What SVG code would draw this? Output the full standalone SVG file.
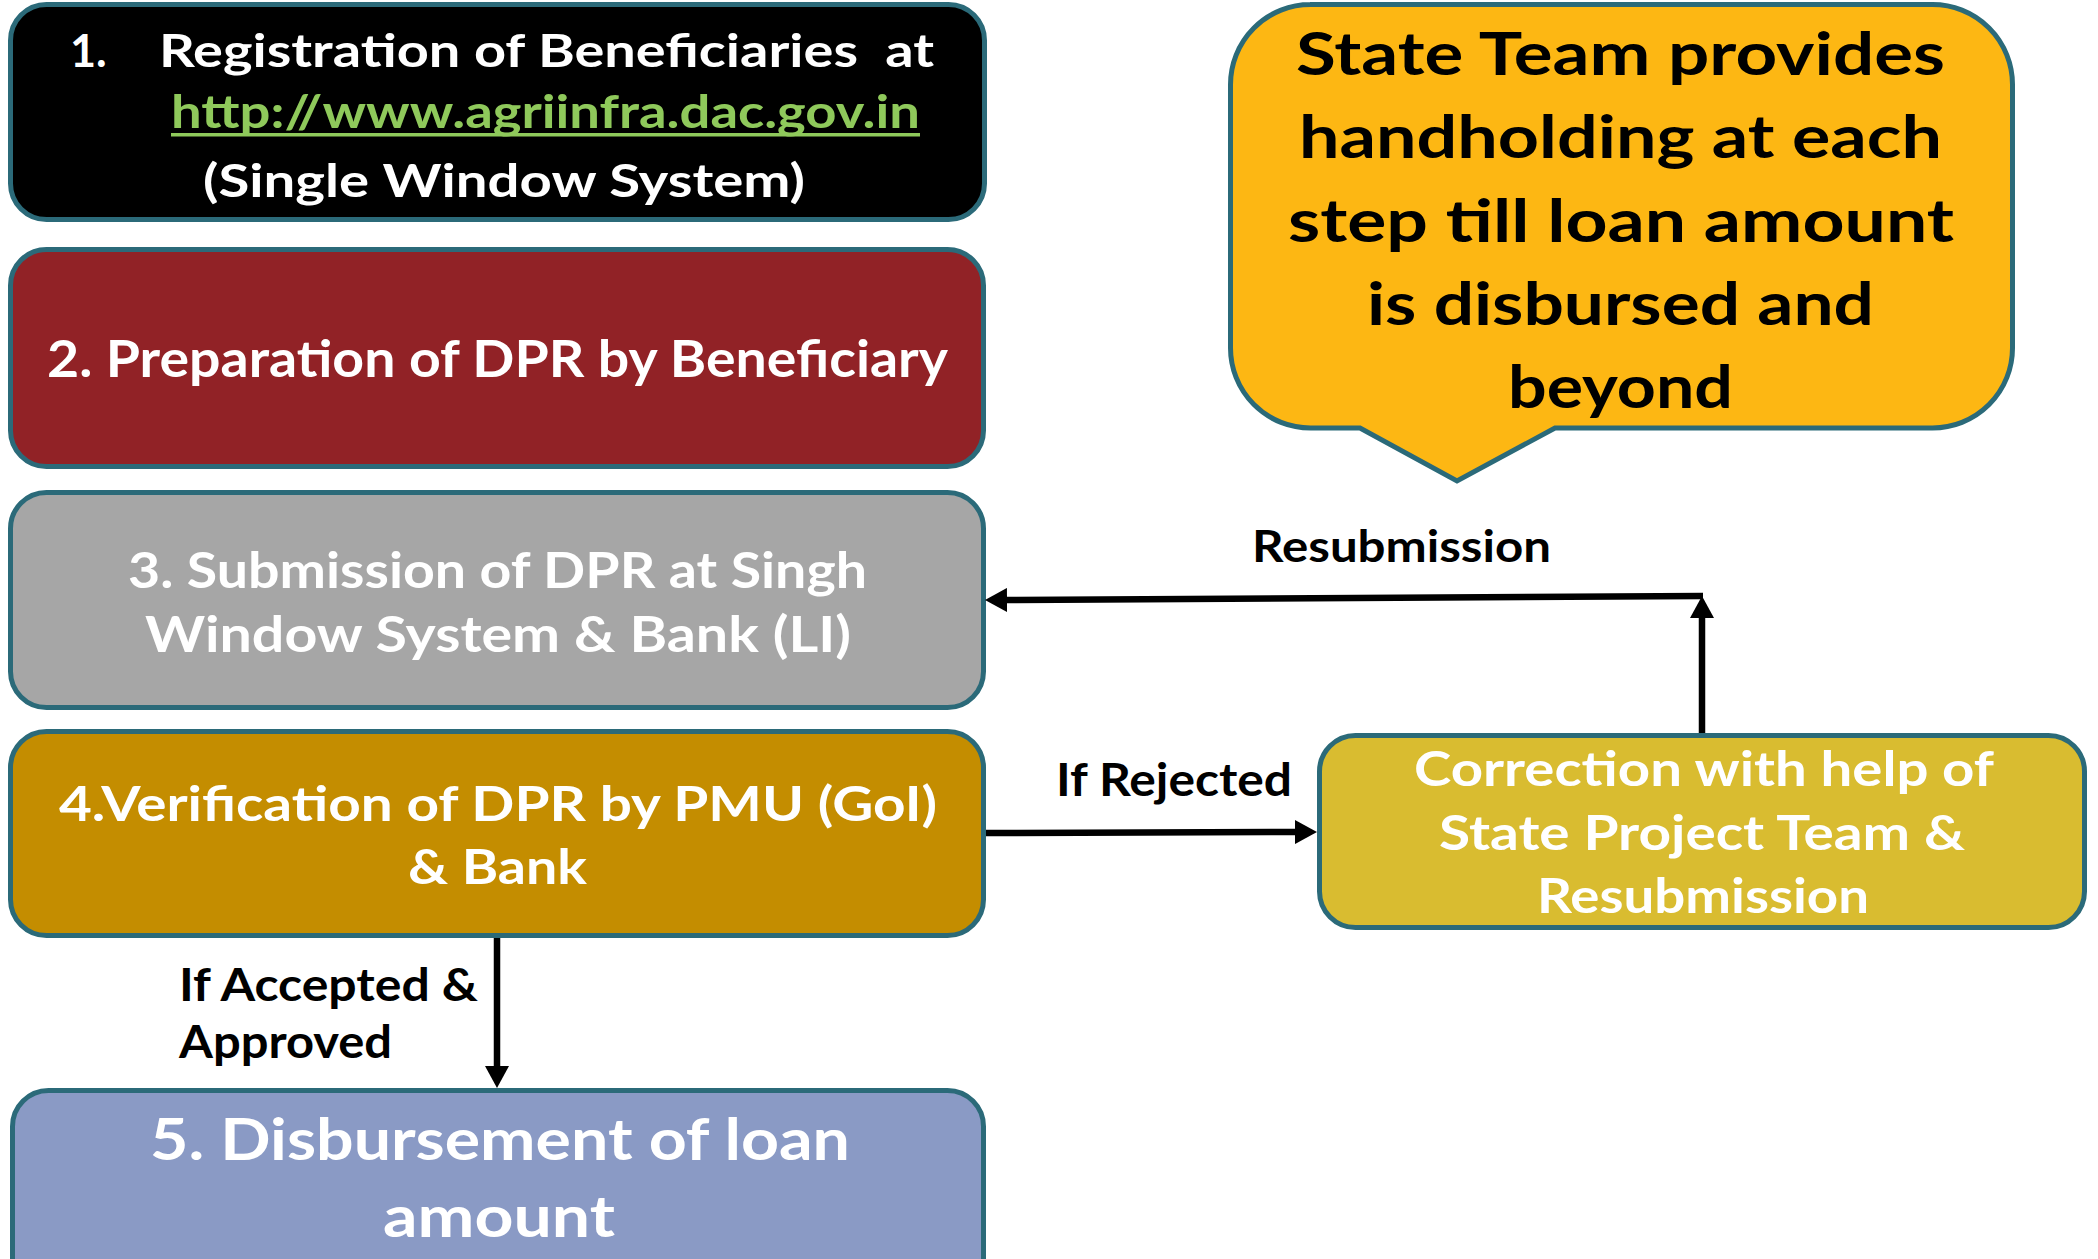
<svg xmlns="http://www.w3.org/2000/svg" width="2098" height="1259" viewBox="0 0 2098 1259">
<defs>
<style>
.box{stroke:#2B6A79;stroke-width:5}
.t{font-family:Lato,"Open Sans","Liberation Sans",sans-serif;font-weight:bold}
.w{fill:#FFFFFF}
.k{fill:#000000}
.con{fill:none;stroke:#000;stroke-width:6.5}
</style>
<marker id="ah" viewBox="0 0 22 24" refX="10" refY="12" markerWidth="22" markerHeight="24" markerUnits="userSpaceOnUse" orient="auto">
<path d="M0,0 L22,12 L0,24 Z" fill="#000"/>
</marker>
</defs>
<rect width="2098" height="1259" fill="#FFFFFF"/>

<g id="node1">
<rect class="box" x="10.5" y="4.5" width="974" height="215" rx="36" fill="#000000"/>
<text class="t w" x="70" y="67" font-size="45">1.</text>
<text class="t w" x="159" y="67" font-size="45" xml:space="preserve" style="white-space:pre" textLength="775" lengthAdjust="spacingAndGlyphs">Registration of Beneficiaries  at</text>
<text class="t" x="171" y="128" font-size="45" fill="#8FC95B" textLength="749" lengthAdjust="spacingAndGlyphs">http://www.agriinfra.dac.gov.in</text>
<rect x="171" y="133" width="749" height="3.5" fill="#8FC95B"/>
<text class="t w" x="203" y="197" font-size="45" textLength="602" lengthAdjust="spacingAndGlyphs">(Single Window System)</text>
</g>

<g id="node2">
<rect class="box" x="10.5" y="249.5" width="973" height="217" rx="36" fill="#912226"/>
<text class="t w" x="47" y="377" font-size="52" textLength="901" lengthAdjust="spacingAndGlyphs">2. Preparation of DPR by Beneficiary</text>
</g>

<g id="node3">
<rect class="box" x="10.5" y="492.5" width="973" height="215" rx="36" fill="#A6A6A6"/>
<text class="t w" x="128" y="588" font-size="50" textLength="739" lengthAdjust="spacingAndGlyphs">3. Submission of DPR at Singh</text>
<text class="t w" x="145" y="652" font-size="50" textLength="706" lengthAdjust="spacingAndGlyphs">Window System &amp; Bank (LI)</text>
</g>

<g id="node4">
<rect class="box" x="10.5" y="731.5" width="973" height="204" rx="36" fill="#C48D00"/>
<text class="t w" x="59" y="821" font-size="47" textLength="878" lengthAdjust="spacingAndGlyphs">4.Verification of DPR by PMU (GoI)</text>
<text class="t w" x="408" y="884" font-size="47" textLength="179" lengthAdjust="spacingAndGlyphs">&amp; Bank</text>
</g>

<g id="node5">
<rect class="box" x="12.5" y="1090.5" width="971" height="210" rx="36" fill="#8A9AC5"/>
<text class="t w" x="150" y="1160" font-size="58" textLength="700" lengthAdjust="spacingAndGlyphs">5. Disbursement of loan</text>
<text class="t w" x="383" y="1237" font-size="58" textLength="232" lengthAdjust="spacingAndGlyphs">amount</text>
</g>

<g id="node6">
<rect class="box" x="1319.5" y="735.5" width="765" height="192" rx="36" fill="#D9BC30"/>
<text class="t w" x="1414" y="786" font-size="48" textLength="580" lengthAdjust="spacingAndGlyphs">Correction with help of</text>
<text class="t w" x="1439" y="850" font-size="48" textLength="526" lengthAdjust="spacingAndGlyphs">State Project Team &amp;</text>
<text class="t w" x="1537" y="913" font-size="48" textLength="332" lengthAdjust="spacingAndGlyphs">Resubmission</text>
</g>

<g id="callout">
<path class="box" fill="#FDB713" d="M1310,4.5 H1932.5 A80,80 0 0 1 2012.5,84.5 V348 A80,80 0 0 1 1932.5,428 H1555 L1457,481 L1360,428 H1310.5 A80,80 0 0 1 1230.5,348 V84.5 A80,80 0 0 1 1310.5,4.5 Z"/>
<text class="t k" x="1296" y="75" font-size="60" textLength="649" lengthAdjust="spacingAndGlyphs">State Team provides</text>
<text class="t k" x="1299" y="158" font-size="60" textLength="643" lengthAdjust="spacingAndGlyphs">handholding at each</text>
<text class="t k" x="1288" y="242" font-size="60" textLength="666" lengthAdjust="spacingAndGlyphs">step till loan amount</text>
<text class="t k" x="1367" y="325" font-size="60" textLength="507" lengthAdjust="spacingAndGlyphs">is disbursed and</text>
<text class="t k" x="1508" y="408" font-size="60" textLength="225" lengthAdjust="spacingAndGlyphs">beyond</text>
</g>

<g id="connectors">
<path class="con" d="M497,938 L497,1076" marker-end="url(#ah)"/>
<path class="con" d="M986,833 L1305,832" marker-end="url(#ah)"/>
<path class="con" d="M1702,733 L1702,608" marker-end="url(#ah)"/>
<path class="con" d="M1703,596 L997,600" marker-end="url(#ah)"/>
<text class="t k" x="1252" y="562" font-size="43" textLength="299" lengthAdjust="spacingAndGlyphs">Resubmission</text>
<text class="t k" x="1056" y="796" font-size="46" textLength="236" lengthAdjust="spacingAndGlyphs">If Rejected</text>
<text class="t k" x="179" y="1001" font-size="46" textLength="299" lengthAdjust="spacingAndGlyphs">If Accepted &amp;</text>
<text class="t k" x="179" y="1058" font-size="46" textLength="213" lengthAdjust="spacingAndGlyphs">Approved</text>
</g>
</svg>
